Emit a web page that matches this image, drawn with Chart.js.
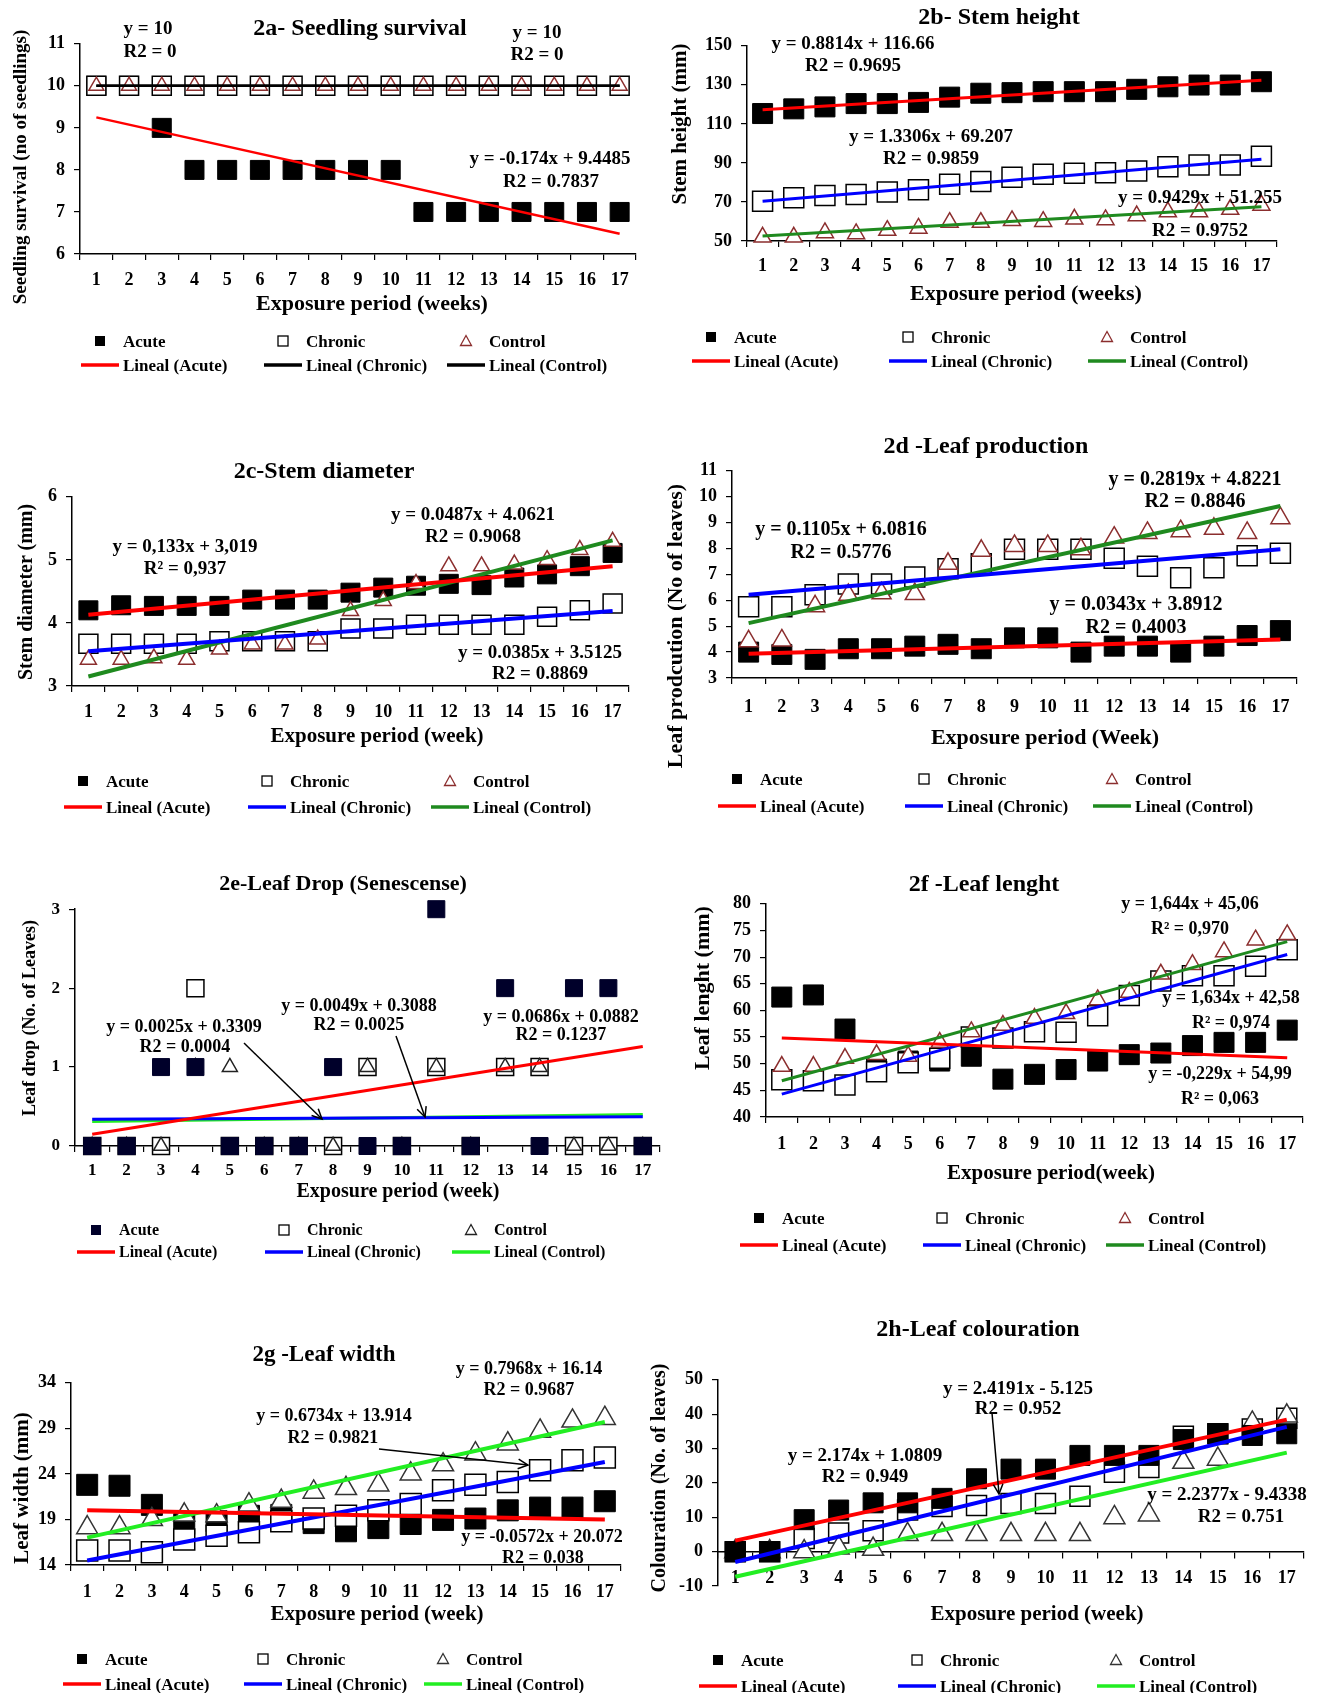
<!DOCTYPE html>
<html>
<head>
<meta charset="utf-8">
<script src="https://cdn.jsdelivr.net/npm/chart.js@4.4.1/dist/chart.umd.min.js"></script>
<style>
  body { margin: 0; background: #fff; }
  #page { position: relative; width: 1321px; height: 1693px; overflow: hidden;
          font-family: 'Liberation Serif', 'Times New Roman', serif; font-weight: bold; color: #000; }
  .box { position: absolute; }
  .t  { position: absolute; white-space: nowrap; line-height: 1; transform: translate(-50%, -50%); }
  .yt { position: absolute; white-space: nowrap; line-height: 1; transform: translate(-50%, -50%) rotate(-90deg); }
  .lg { position: absolute; white-space: nowrap; line-height: 1; transform: translateY(-50%); }
  svg.ov { position: absolute; left: 0; top: 0; pointer-events: none; }
</style>
</head>
<body>
<div id="page"></div>
<script>
const weeks = ['1', '2', '3', '4', '5', '6', '7', '8', '9', '10', '11', '12', '13', '14', '15', '16', '17'];

// 2a - seedling survival
const survAxis = [6, 11, 1];
const survAcute   = [10, 10, 9, 8, 8, 8, 8, 8, 8, 8, 7, 7, 7, 7, 7, 7, 7];
const survChronic = [10, 10, 10, 10, 10, 10, 10, 10, 10, 10, 10, 10, 10, 10, 10, 10, 10];
const survControl = [10, 10, 10, 10, 10, 10, 10, 10, 10, 10, 10, 10, 10, 10, 10, 10, 10];
const survTrendAcute = [9.25, 6.48];
const survTrendChronic = [10, 10];
const survTrendControl = [10, 10];

// 2b - stem height
const heightAxis = [50, 150, 20];
const heightAcute   = [115.3, 117.7, 118.7, 120.4, 120.4, 121, 123.7, 125.7, 126, 126.5, 126.5, 126.5, 127.7, 129, 129.9, 129.9, 131.6];
const heightChronic = [70.4, 72.1, 73.3, 73.8, 75.1, 76.3, 79.1, 80.5, 82.7, 84.2, 84.7, 85, 85.8, 88, 88.9, 88.9, 93.4];
const heightControl = [52, 52, 54.2, 53.7, 55.4, 56.5, 59.5, 59.5, 60.4, 60, 61.2, 60.9, 62.9, 64.9, 64.9, 66.2, 68.3];
const heightTrendAcute = [117.3, 132.4];
const heightTrendChronic = [70.4, 91.9];
const heightTrendControl = [52.5, 67.6];

// 2c - stem diameter
const diamAxis = [3, 6, 1];
const diamAcute   = [4.2, 4.28, 4.27, 4.27, 4.27, 4.37, 4.37, 4.37, 4.48, 4.56, 4.59, 4.62, 4.6, 4.72, 4.77, 4.9, 5.11];
const diamChronic = [3.67, 3.67, 3.67, 3.67, 3.71, 3.71, 3.71, 3.71, 3.91, 3.91, 3.97, 3.97, 3.97, 3.97, 4.1, 4.2, 4.31];
const diamControl = [3.42, 3.42, 3.44, 3.42, 3.58, 3.66, 3.66, 3.74, 4.19, 4.35, 4.62, 4.9, 4.9, 4.93, 5.0, 5.16, 5.29];
const diamTrendAcute = [4.13, 4.9];
const diamTrendChronic = [3.55, 4.19];
const diamTrendControl = [3.15, 5.31];

// 2d - leaf production
const leafAxis = [3, 11, 1];
const leafAcute   = [4.0, 3.91, 3.72, 4.13, 4.13, 4.23, 4.3, 4.13, 4.55, 4.55, 4.0, 4.23, 4.23, 4.0, 4.23, 4.64, 4.83];
const leafChronic = [5.75, 5.75, 6.21, 6.63, 6.63, 6.9, 7.22, 7.41, 7.97, 7.97, 7.97, 7.62, 7.31, 6.87, 7.26, 7.72, 7.82];
const leafControl = [4.42, 4.45, 5.77, 6.21, 6.27, 6.24, 7.41, 7.91, 8.1, 8.1, 7.97, 8.42, 8.6, 8.67, 8.76, 8.6, 9.17];
const leafTrendAcute = [3.94, 4.49];
const leafTrendChronic = [6.21, 7.97];
const leafTrendControl = [5.12, 9.64];

// 2e - leaf drop
const dropAxis = [0, 3, 1];
const dropAcute   = [0, 0, 1, 1, 0, 0, 0, 1, 0, 0, 3, 0, 2, 0, 2, 2, 0];
const dropChronic = [0, 0, 0, 2, 0, 0, 0, 0, 1, 0, 1, 0, 1, 1, 0, 0, 0];
const dropControl = [0, 0, 0, 1, 1, 0, 0, 0, 1, 0, 1, 0, 1, 1, 0, 0, 0];
const dropTrendAcute = [0.15, 1.26];
const dropTrendChronic = [0.34, 0.37];
const dropTrendControl = [0.31, 0.4];

// 2f - leaf length
const lengthAxis = [40, 80, 5];
const lengthAcute   = [62.5, 62.9, 56.5, 49, 50.5, 50.5, 51.4, 47.1, 48, 48.9, 50.5, 51.7, 52, 53.4, 54, 54, 56.3];
const lengthChronic = [47, 46.8, 46, 48.5, 50.2, 51, 55, 54.8, 56, 55.9, 59, 62.8, 65.5, 66.5, 66.5, 68.3, 71.4];
const lengthControl = [49.5, 49.5, 51, 51.7, 51.4, 54, 56, 57.2, 58.5, 59.4, 62, 63.4, 66.8, 68.6, 71, 73.2, 74.2];
const lengthTrendAcute = [54.8, 51.1];
const lengthTrendChronic = [44.3, 70.5];
const lengthTrendControl = [46.8, 72.9];

// 2g - leaf width
const widthAxis = [14, 34, 5];
const widthAcute   = [22.8, 22.7, 20.6, 18.5, 18.8, 19.4, 19.5, 18.6, 17.7, 18.05, 18.5, 18.95, 19.1, 20, 20.3, 20.3, 21];
const widthChronic = [15.6, 15.6, 15.4, 16.8, 17.2, 17.6, 18.8, 19.1, 19.4, 20, 20.7, 22.2, 22.8, 23.1, 24.4, 25.5, 25.8];
const widthControl = [18.1, 18.1, 19, 19.5, 19.4, 20.6, 21, 22, 22.4, 22.8, 24, 25, 26.2, 27.3, 28.7, 29.8, 30.1];
const widthTrendAcute = [20.0, 19.0];
const widthTrendChronic = [14.5, 25.3];
const widthTrendControl = [17.0, 29.7];

// 2h - leaf colouration
const colourAxis = [-10, 50, 10];
const colourAcute   = [0, 0, 9.3, 12.1, 14.2, 14.2, 15.5, 21.2, 24, 24, 28, 28, 28, 32.6, 34.3, 33.8, 34.3];
const colourChronic = [0, 0, 3.8, 5.4, 6.1, 12.1, 13.1, 13.4, 14, 14, 16.1, 23.1, 24.5, 33.6, 34.3, 35.7, 38.8];
const colourControl = [0, 0, 0, 1.1, 0.7, 5, 5, 5, 5, 5, 5, 9.9, 10.7, 26, 26.9, 37.4, 39.5];
const colourTrendAcute = [3.2, 38.4];
const colourTrendChronic = [-3.0, 36.3];
const colourTrendControl = [-7.3, 28.8];

const FONT = "'Liberation Serif', 'Times New Roman', serif";
Chart.defaults.font.family = FONT;
Chart.defaults.font.weight = 'bold';
Chart.defaults.color = '#000';

const RED = '#ff0000', BLUE = '#0000ff', DKGREEN = '#1f8a1f', LTGREEN = '#22ee22';

const panels = [
  { area: [80, 40, 636, 254], axis: survAxis,
    series: [survAcute, survChronic, survControl],
    trends: [survTrendAcute, survTrendChronic, survTrendControl],
    colors: [RED, '#000000', '#000000'], lineW: 2.5, tri: '#8b2e2e', acute: '#000',
    sq: 19, triW: 15, tick: 18, xPad: 10,
    title: ['2a- Seedling survival', 360, 27, 24],
    xTitle: ['Exposure period (weeks)', 372, 303, 22],
    yTitle: ['Seedling survival (no of seedlings)', 19, 167, 19],
    notes: [['y = 10', 148, 27], ['R2 = 0', 150, 50], ['y = 10', 537, 31], ['R2 = 0', 537, 53],
            ['y = -0.174x + 9.4485', 550, 157], ['R2 = 0.7837', 551, 180]],
    noteSize: 19, legX: [123, 306, 489], legY: [341, 365], legSize: 17, arrows: [] },

  { area: [747, 42, 1277, 241], axis: heightAxis,
    series: [heightAcute, heightChronic, heightControl],
    trends: [heightTrendAcute, heightTrendChronic, heightTrendControl],
    colors: [RED, BLUE, DKGREEN], lineW: 3, tri: '#8b2e2e', acute: '#000',
    sq: 20, triW: 17, tick: 18, xPad: 9,
    title: ['2b- Stem height', 999, 16, 24],
    xTitle: ['Exposure period (weeks)', 1026, 293, 22],
    yTitle: ['Stem height (mm)', 679, 124, 21],
    notes: [['y = 0.8814x + 116.66', 853, 42], ['R2 = 0.9695', 853, 64],
            ['y = 1.3306x + 69.207', 931, 135], ['R2 = 0.9859', 931, 157],
            ['y = 0.9429x + 51.255', 1200, 196], ['R2 = 0.9752', 1200, 229]],
    noteSize: 19, legX: [734, 931, 1130], legY: [337, 361], legSize: 17, arrows: [] },

  { area: [72, 493, 629, 686], axis: diamAxis,
    series: [diamAcute, diamChronic, diamControl],
    trends: [diamTrendAcute, diamTrendChronic, diamTrendControl],
    colors: [RED, BLUE, DKGREEN], lineW: 4, tri: '#8b2e2e', acute: '#000',
    sq: 19, triW: 16, tick: 18, xPad: 10,
    title: ['2c-Stem diameter', 324, 470, 24],
    xTitle: ['Exposure period (week)', 377, 735, 21],
    yTitle: ['Stem diameter (mm)', 25, 592, 20],
    notes: [['y = 0,133x + 3,019', 185, 545], ['R² = 0,937', 185, 567],
            ['y = 0.0487x + 4.0621', 473, 513], ['R2 = 0.9068', 473, 535],
            ['y = 0.0385x + 3.5125', 540, 651], ['R2 = 0.8869', 540, 672]],
    noteSize: 19, legX: [106, 290, 473], legY: [781, 807], legSize: 17, arrows: [] },

  { area: [732, 467, 1297, 678], axis: leafAxis,
    series: [leafAcute, leafChronic, leafControl],
    trends: [leafTrendAcute, leafTrendChronic, leafTrendControl],
    colors: [RED, BLUE, DKGREEN], lineW: 4, tri: '#8b2e2e', acute: '#000',
    sq: 20, triW: 19, tick: 18, xPad: 13,
    title: ['2d -Leaf production', 986, 445, 24],
    xTitle: ['Exposure period (Week)', 1045, 737, 22],
    yTitle: ['Leaf prodcution (No of leaves)', 675, 626, 22],
    notes: [['y = 0.2819x + 4.8221', 1195, 478], ['R2 = 0.8846', 1195, 500],
            ['y = 0.1105x + 6.0816', 841, 528], ['R2 = 0.5776', 841, 551],
            ['y = 0.0343x + 3.8912', 1136, 603], ['R2 = 0.4003', 1136, 626]],
    noteSize: 20, legX: [760, 947, 1135], legY: [779, 806], legSize: 17, arrows: [] },

  { area: [75, 906, 660, 1146], axis: dropAxis,
    series: [dropAcute, dropChronic, dropControl],
    trends: [dropTrendAcute, dropTrendChronic, dropTrendControl],
    colors: [RED, BLUE, LTGREEN], lineW: 3, tri: '#222222', acute: '#00002a', acuteTop: true,
    sq: 17, triW: 15, tick: 17, xPad: 8,
    title: ['2e-Leaf Drop (Senescense)', 343, 883, 22],
    xTitle: ['Exposure period (week)', 398, 1190, 20],
    yTitle: ['Leaf drop (No. of Leaves)', 29, 1018, 18],
    notes: [['y = 0.0025x + 0.3309', 184, 1026], ['R2 = 0.0004', 185, 1046],
            ['y = 0.0049x + 0.3088', 359, 1005], ['R2 = 0.0025', 359, 1024],
            ['y = 0.0686x + 0.0882', 561, 1016], ['R2 = 0.1237', 561, 1034]],
    noteSize: 18, legX: [119, 307, 494], legY: [1230, 1252], legSize: 16,
    arrows: [[244, 1043, 322, 1119], [396, 1036, 425, 1117]] },

  { area: [766, 900, 1303, 1117], axis: lengthAxis,
    series: [lengthAcute, lengthChronic, lengthControl],
    trends: [lengthTrendAcute, lengthTrendChronic, lengthTrendControl],
    colors: [RED, BLUE, DKGREEN], lineW: 3, tri: '#8b2e2e', acute: '#000',
    sq: 20, triW: 17, tick: 18, xPad: 11,
    title: ['2f -Leaf lenght', 984, 883, 24],
    xTitle: ['Exposure period(week)', 1051, 1172, 21],
    yTitle: ['Leaf lenght (mm)', 702, 988, 22],
    notes: [['y = 1,644x + 45,06', 1190, 903], ['R² = 0,970', 1190, 928],
            ['y = 1,634x + 42,58', 1231, 997], ['R² = 0,974', 1231, 1022],
            ['y = -0,229x + 54,99', 1220, 1073], ['R² = 0,063', 1220, 1098]],
    noteSize: 18, legX: [782, 965, 1148], legY: [1218, 1245], legSize: 17, arrows: [] },

  { area: [71, 1379, 621, 1565], axis: widthAxis,
    series: [widthAcute, widthChronic, widthControl],
    trends: [widthTrendAcute, widthTrendChronic, widthTrendControl],
    colors: [RED, BLUE, LTGREEN], lineW: 4, tri: '#333333', acute: '#000',
    sq: 21, triW: 21, tick: 18, xPad: 11,
    title: ['2g -Leaf width', 324, 1353, 23],
    xTitle: ['Exposure period (week)', 377, 1613, 21],
    yTitle: ['Leaf width (mm)', 21, 1488, 21],
    notes: [['y = 0.7968x + 16.14', 529, 1368], ['R2 = 0.9687', 529, 1389],
            ['y = 0.6734x + 13.914', 334, 1415], ['R2 = 0.9821', 333, 1437],
            ['y = -0.0572x + 20.072', 542, 1536], ['R2 = 0.038', 543, 1557]],
    noteSize: 18, legX: [105, 286, 466], legY: [1659, 1684], legSize: 17,
    arrows: [[379, 1449, 528, 1465]] },

  { area: [718, 1376, 1304, 1586], axis: colourAxis, xAtZero: true,
    series: [colourAcute, colourChronic, colourControl],
    trends: [colourTrendAcute, colourTrendChronic, colourTrendControl],
    colors: [RED, BLUE, LTGREEN], lineW: 4, tri: '#333333', acute: '#000', acuteTop: true,
    sq: 20, triW: 21, tick: 18, xPad: 10,
    title: ['2h-Leaf colouration', 978, 1328, 24],
    xTitle: ['Exposure period (week)', 1037, 1613, 21],
    yTitle: ['Colouration (No. of leaves)', 658, 1478, 20],
    notes: [['y = 2.4191x - 5.125', 1018, 1387], ['R2 = 0.952', 1018, 1407],
            ['y = 2.174x + 1.0809', 865, 1454], ['R2 = 0.949', 865, 1475],
            ['y = 2.2377x - 9.4338', 1227, 1493], ['R2 = 0.751', 1241, 1515]],
    noteSize: 19, legX: [741, 940, 1139], legY: [1660, 1686], legSize: 17,
    arrows: [[992, 1413, 999, 1494]] }
];

const page = document.getElementById('page');
const svgNS = 'http://www.w3.org/2000/svg';

function txt(s, x, y, size, cls) {
  const d = document.createElement('div');
  d.className = cls || 't';
  d.textContent = s;
  d.style.left = x + 'px';
  d.style.top = y + 'px';
  d.style.fontSize = size + 'px';
  page.appendChild(d);
}

function svgEl(tag, attrs) {
  const e = document.createElementNS(svgNS, tag);
  for (const k in attrs) e.setAttribute(k, attrs[k]);
  ov.appendChild(e);
}

function makeChart(p) {
  const [L, T, R, B] = p.area;
  const padL = 62, padT = 16, padR = 18, padB = 50;
  const w = R - L + padL + padR, h = B - T + padT + padB;
  const box = document.createElement('div');
  box.className = 'box';
  box.style.left = (L - padL) + 'px';
  box.style.top = (T - padT) + 'px';
  box.style.width = w + 'px';
  box.style.height = h + 'px';
  const cv = document.createElement('canvas');
  cv.width = w; cv.height = h;
  box.appendChild(cv);
  page.appendChild(box);

  const [acute, chronic, control] = p.series;
  const trendNames = ['Lineal (Acute)', 'Lineal (Chronic)', 'Lineal (Control)'];
  const trendSets = p.trends.map((t, i) => ({
    label: trendNames[i],
    data: [{ x: weeks[0], y: t[0] }, { x: weeks[weeks.length - 1], y: t[1] }],
    borderColor: p.colors[i], borderWidth: p.lineW, pointRadius: 0, fill: false
  }));
  const acuteSet = { label: 'Acute', data: acute, showLine: false, clip: false,
    pointStyle: 'rect', pointRadius: p.sq / 1.414,
    pointBackgroundColor: p.acute, pointBorderColor: p.acute, pointBorderWidth: 1 };
  const chronicSet = { label: 'Chronic', data: chronic, showLine: false, clip: false,
    pointStyle: 'rect', pointRadius: p.sq / 1.414,
    pointBackgroundColor: '#fff', pointBorderColor: '#000', pointBorderWidth: 1.5 };
  const controlSet = { label: 'Control', data: control, showLine: false, clip: false,
    pointStyle: 'triangle', pointRadius: p.triW / 1.732,
    pointBackgroundColor: '#fff', pointBorderColor: p.tri, pointBorderWidth: 1.5 };

  // first dataset is drawn on top
  const marks = p.acuteTop ? [acuteSet, controlSet, chronicSet] : [controlSet, chronicSet, acuteSet];
  const [yMin, yMax, yStep] = p.axis;
  const tickFont = { family: FONT, weight: 'bold', size: p.tick };

  new Chart(cv, {
    type: 'line',
    data: { labels: weeks, datasets: [...trendSets, ...marks] },
    options: {
      responsive: false, animation: false, devicePixelRatio: 1, events: [],
      layout: { autoPadding: false, padding: { left: 0, top: padT, right: padR, bottom: p.xAtZero ? padB : 0 } },
      plugins: { legend: { display: false }, tooltip: { enabled: false } },
      scales: {
        x: {
          type: 'category', offset: true,
          position: p.xAtZero ? { y: 0 } : 'bottom',
          grid: { display: true, drawOnChartArea: false, drawTicks: true, tickLength: 6,
                  offset: true, color: '#000', lineWidth: 1.2 },
          border: { display: true, color: '#000', width: 1.5 },
          ticks: { font: tickFont, color: '#000', padding: p.xPad, maxRotation: 0, autoSkip: false },
          afterFit: s => { s.height = padB; }
        },
        y: {
          min: yMin, max: yMax,
          grid: { display: true, drawOnChartArea: false, drawTicks: true, tickLength: 6,
                  color: '#000', lineWidth: 1.2 },
          border: { display: true, color: '#000', width: 1.5 },
          ticks: { stepSize: yStep, font: tickFont, color: '#000', padding: 9 },
          afterFit: s => { s.width = padL; }
        }
      }
    }
  });
}

panels.forEach(makeChart);

// overlay for legend symbols and arrows
const ov = document.createElementNS(svgNS, 'svg');
ov.setAttribute('class', 'ov');
ov.setAttribute('width', 1321);
ov.setAttribute('height', 1693);
page.appendChild(ov);

panels.forEach(p => {
  txt(p.title[0], p.title[1], p.title[2], p.title[3]);
  txt(p.xTitle[0], p.xTitle[1], p.xTitle[2], p.xTitle[3]);
  txt(p.yTitle[0], p.yTitle[1], p.yTitle[2], p.yTitle[3], 'yt');
  p.notes.forEach(n => txt(n[0], n[1], n[2], p.noteSize));

  const [r1, r2] = p.legY;
  const names = ['Acute', 'Chronic', 'Control'];
  p.legX.forEach((x, i) => {
    const d1 = document.createElement('div');
    d1.className = 'lg'; d1.textContent = names[i];
    d1.style.left = x + 'px'; d1.style.top = r1 + 'px'; d1.style.fontSize = p.legSize + 'px';
    page.appendChild(d1);
    const d2 = document.createElement('div');
    d2.className = 'lg'; d2.textContent = 'Lineal (' + names[i] + ')';
    d2.style.left = x + 'px'; d2.style.top = r2 + 'px'; d2.style.fontSize = p.legSize + 'px';
    page.appendChild(d2);
    const cx = x - 23;
    if (i === 0) svgEl('rect', { x: cx - 5, y: r1 - 5, width: 10, height: 10, fill: p.acute });
    if (i === 1) svgEl('rect', { x: cx - 5, y: r1 - 5, width: 10, height: 10, fill: '#fff', stroke: '#000', 'stroke-width': 1.3 });
    if (i === 2) svgEl('polygon', { points: `${cx - 5.5},${r1 + 4.5} ${cx + 5.5},${r1 + 4.5} ${cx},${r1 - 5.5}`,
                                    fill: '#fff', stroke: p.tri, 'stroke-width': 1.3 });
    svgEl('line', { x1: x - 42, y1: r2, x2: x - 4, y2: r2, stroke: p.colors[i], 'stroke-width': 3.5 });
  });

  p.arrows.forEach(a => {
    const [x1, y1, x2, y2] = a;
    const ang = Math.atan2(y2 - y1, x2 - x1), hl = 11, hw = 0.45;
    svgEl('line', { x1, y1, x2, y2, stroke: '#000', 'stroke-width': 1.5 });
    svgEl('polyline', {
      points: `${x2 - hl * Math.cos(ang - hw)},${y2 - hl * Math.sin(ang - hw)} ${x2},${y2} ${x2 - hl * Math.cos(ang + hw)},${y2 - hl * Math.sin(ang + hw)}`,
      fill: 'none', stroke: '#000', 'stroke-width': 1.5 });
  });
});
</script>
</body>
</html>
